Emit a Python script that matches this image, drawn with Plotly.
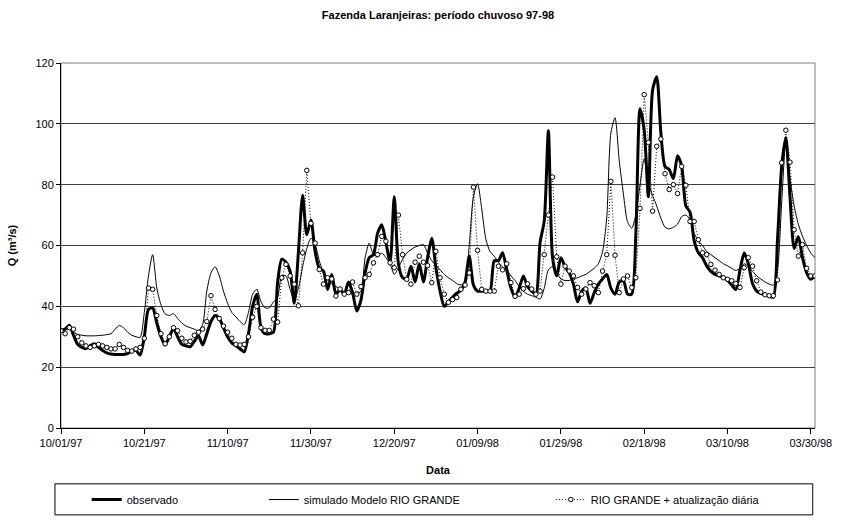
import pandas as pd
import plotly.graph_objects as go

# Daily discharge, Fazenda Laranjeiras, 1997-10-01 .. 1998-03-31 (m3/s)
start_date = "1997-10-01"

observado = [
    32.1, 32.5, 33.8, 30.5, 27.5, 26.5, 26.1, 27.0, 27.7, 26.5,
    25.5, 24.7, 24.3, 24.2, 24.2, 24.2, 24.5, 25.3, 25.5, 24.0,
    30.0, 39.0, 39.5, 34.5, 30.0, 27.3, 30.0, 32.6, 30.0, 27.5,
    27.0, 26.7, 28.5, 30.3, 27.3, 31.0, 35.0, 37.0, 36.0, 33.0,
    30.0, 28.0, 27.0, 26.0, 25.0, 31.0, 40.0, 44.0, 33.0, 31.0,
    31.0, 31.5, 48.0, 55.5, 54.5, 51.6, 41.0, 58.0, 76.5, 63.5,
    68.4, 58.0, 52.5, 51.6, 45.5, 50.5, 44.0, 45.5, 44.0, 48.0,
    44.5, 38.5, 42.0, 51.0, 56.0, 57.0, 64.0, 66.8, 61.0, 54.5,
    76.0, 54.0, 49.4, 49.0, 53.2, 48.0, 54.0, 48.0, 56.0, 62.4,
    52.7, 45.0, 40.0, 41.5, 43.0, 44.3, 45.3, 48.0, 56.5, 47.0,
    45.0, 45.0, 45.0, 45.0, 55.0, 55.0, 57.6, 52.0, 46.0, 43.0,
    46.0, 50.0, 46.5, 45.0, 44.0, 61.0, 68.0, 97.7, 56.0, 50.0,
    56.0, 53.0, 51.0, 47.3, 41.5, 45.0, 46.0, 41.0, 44.5, 47.3,
    49.0, 50.5, 46.0, 44.0, 48.0, 48.5, 44.0, 44.0, 64.0, 105.0,
    98.0, 76.0, 111.0, 115.5, 97.0, 86.0, 85.0, 82.0, 89.5, 86.0,
    73.0, 71.0, 61.5, 57.6, 56.0, 53.3, 51.5, 50.5, 50.0, 49.5,
    48.5, 47.0, 45.5, 52.0, 57.5, 54.0, 47.5, 45.0, 44.2, 43.8,
    43.3, 43.0, 62.0, 86.0, 95.5, 76.0, 59.0, 63.0, 56.0, 51.0,
    48.9, 50.0,
]

simulado = [
    32.1, 32.5, 33.8, 31.5, 30.8, 30.5, 30.3, 30.3, 30.3, 30.4,
    30.5, 30.7, 31.0, 32.5, 33.7, 33.0, 31.5, 30.5, 30.0, 29.8,
    38.0, 50.0, 57.0, 46.0, 40.5, 37.5, 37.0, 37.6, 36.0, 34.5,
    33.5, 33.0, 32.5, 32.0, 34.0, 45.0, 51.0, 53.0, 50.0, 45.0,
    41.0, 38.0, 36.5, 35.0, 34.0, 38.0, 44.0, 45.6, 41.5, 39.5,
    39.5, 41.5, 43.0, 50.0, 50.0, 45.5, 42.0, 46.0, 53.0, 59.0,
    62.4, 60.4, 55.0, 51.0, 49.0, 47.5, 46.5, 45.6, 44.6, 44.3,
    44.0, 44.0, 45.0, 56.0, 60.8, 57.0, 56.5, 57.5, 56.0, 54.0,
    50.5, 52.7, 55.5, 57.5, 58.6, 59.5, 60.0, 60.3, 57.5, 55.0,
    53.5, 52.0, 50.5, 49.4, 48.5, 47.5, 47.0, 48.0, 60.0, 76.0,
    80.3, 72.0, 62.0, 58.0, 56.5, 54.5, 53.0, 52.0, 50.0, 48.5,
    46.5, 45.0, 44.0, 43.5, 43.0, 42.4, 46.0, 52.0, 53.0, 51.0,
    49.0, 48.5, 48.5, 49.0, 49.4, 50.0, 50.5, 51.5, 52.5, 54.0,
    58.0, 69.0, 97.0, 102.0, 88.0, 77.0, 67.8, 65.7, 70.0, 80.0,
    88.5, 81.0, 76.5, 73.0, 69.0, 66.0, 65.5, 66.0, 67.0, 69.5,
    70.0, 68.5, 64.0, 61.5, 60.0, 58.0, 57.0, 56.0, 55.0, 54.0,
    53.3, 52.5, 51.8, 52.5, 54.0, 53.0, 51.5, 50.0, 49.0, 48.0,
    47.3, 47.0, 52.0, 74.0, 94.0, 82.0, 73.0, 67.0, 63.0, 60.0,
    57.5, 56.0,
]

atualizado = [
    32.0, 31.0, 33.0, 32.5, 30.0, 28.0, 27.0, 26.5, 27.0, 27.5,
    27.0, 26.5, 26.0, 26.0, 27.5, 26.5, 25.5, 25.3, 26.0, 26.5,
    29.5, 46.0, 45.6, 37.0, 31.0, 27.7, 30.0, 33.0, 32.0, 29.5,
    28.3, 28.5, 30.5, 31.5, 32.5, 35.0, 43.5, 39.0, 36.0, 33.5,
    31.5, 29.5, 27.5, 27.3, 27.5, 30.0, 36.4, 40.0, 33.0, 32.1,
    32.1, 35.8, 34.8, 49.4, 53.8, 50.0, 47.3, 40.2, 57.6, 84.7,
    67.3, 60.8, 52.1, 47.3, 49.4, 49.0, 43.4, 45.7, 44.0, 44.5,
    48.0, 44.0, 46.5, 49.4, 50.5, 54.3, 57.0, 63.0, 61.4, 54.3,
    52.7, 70.0, 57.0, 48.9, 47.3, 54.5, 56.5, 54.5, 53.4, 47.8,
    58.1, 49.4, 44.0, 41.3, 42.2, 42.9, 45.6, 47.0, 51.0, 79.2,
    58.4, 45.6, 45.0, 45.0, 45.0, 53.2, 52.0, 54.0, 47.8, 43.3,
    44.0, 45.8, 47.4, 45.7, 44.0, 45.0, 57.0, 70.0, 82.5, 56.3,
    47.3, 53.2, 51.6, 50.0, 46.2, 44.0, 45.7, 47.8, 46.8, 44.5,
    51.6, 57.0, 81.1, 56.8, 44.5, 49.0, 50.0, 46.2, 49.4, 72.2,
    109.6, 93.9, 71.3, 92.6, 95.0, 83.6, 78.4, 80.0, 77.1, 86.0,
    79.8, 67.9, 67.9, 61.9, 57.6, 57.0, 53.8, 51.9, 50.5, 49.4,
    48.9, 48.4, 47.5, 46.2, 52.7, 56.0, 53.2, 48.4, 44.7, 43.8,
    43.5, 43.5, 48.7, 87.2, 97.9, 87.4, 65.2, 56.5, 60.3, 52.5,
    50.0, 50.0,
]

series_names = [
    "observado",
    "simulado Modelo RIO GRANDE",
    "RIO GRANDE + atualização diária",
]

datas = pd.date_range(start_date, periods=len(observado), freq="D")

FONT = "Arial, Liberation Sans, sans-serif"

fig = go.Figure()

fig.add_trace(go.Scatter(
    x=datas, y=observado, name=series_names[0], mode="lines",
    line=dict(color="black", width=3, shape="spline", smoothing=0.7),
    legend="legend",
))
fig.add_trace(go.Scatter(
    x=datas, y=simulado, name=series_names[1], mode="lines",
    line=dict(color="black", width=1, shape="spline", smoothing=0.7),
    legend="legend2",
))
fig.add_trace(go.Scatter(
    x=datas, y=atualizado, name=series_names[2], mode="lines+markers",
    line=dict(color="black", width=1, dash="1px,2px"),
    marker=dict(symbol="circle", size=4.5, color="white",
                line=dict(color="black", width=1)),
    legend="legend3",
))

# plot-area frame (grey) and the legend box
fig.add_shape(type="rect", xref="paper", yref="paper", x0=0, x1=1, y0=0, y1=1,
              line=dict(color="#808080", width=1), layer="below")
fig.add_shape(type="rect", xref="paper", yref="paper",
              x0=-0.008, x1=0.997, y0=-0.238, y1=-0.153,
              line=dict(color="black", width=1), fillcolor="white", layer="below")

legend_common = dict(orientation="h", yanchor="middle", y=-0.196, xanchor="left",
                     bgcolor="rgba(0,0,0,0)", borderwidth=0,
                     font=dict(family=FONT, size=11, color="black"))

fig.update_layout(
    width=844, height=526,
    margin=dict(l=60, r=22, t=63, b=94),
    paper_bgcolor="white", plot_bgcolor="white",
    font=dict(family=FONT, size=11, color="black"),
    title=dict(text="<b>Fazenda Laranjeiras: período chuvoso 97-98</b>",
               x=0.5, xref="paper", xanchor="center",
               y=1 - 15 / 526, yref="container", yanchor="middle",
               font=dict(family=FONT, size=11, color="black")),
    showlegend=True,
    legend=dict(x=(86 - 60) / 762, **legend_common),
    legend2=dict(x=(265 - 60) / 762, **legend_common),
    legend3=dict(x=(555 - 60) / 762, **legend_common),
    xaxis=dict(
        type="date",
        range=["1997-10-01", "1998-03-31"],
        tick0="1997-10-01", dtick=20 * 86400000,
        tickformat="%m/%d/%y",
        ticks="outside", ticklen=5, tickcolor="black",
        showline=True, linecolor="black", linewidth=1,
        showgrid=False, zeroline=False,
        tickfont=dict(family=FONT, size=11, color="black"),
        title=dict(text="<b>Data</b>", standoff=18,
                   font=dict(family=FONT, size=11, color="black")),
    ),
    yaxis=dict(
        range=[0, 120], dtick=20, tick0=0,
        ticks="outside", ticklen=4, tickcolor="black",
        showline=True, linecolor="black", linewidth=1,
        showgrid=True, gridcolor="#404040", gridwidth=1,
        zeroline=False,
        tickfont=dict(family=FONT, size=11, color="black"),
        title=dict(text="<b>Q (m³/s)</b>", standoff=16,
                   font=dict(family=FONT, size=11, color="black")),
    ),
)

fig.write_html("out.html")
